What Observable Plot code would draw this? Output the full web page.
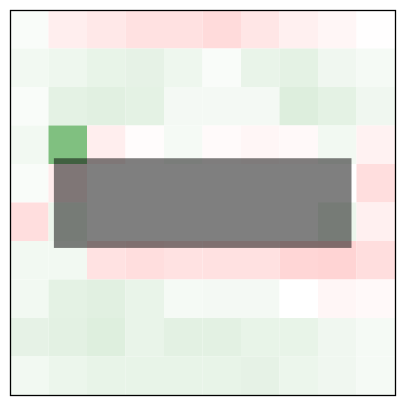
<!DOCTYPE html>
<html>
<head>
<meta charset="utf-8">
<script src="https://cdn.jsdelivr.net/npm/d3@7"></script>
<script src="https://cdn.jsdelivr.net/npm/@observablehq/plot@0.6"></script>
<style>
  html, body { margin: 0; padding: 0; background: #fff; }
  #chart svg { display: block; }
</style>
</head>
<body>
<div id="chart"></div>
<script>
// Heatmap values (rows top to bottom, columns left to right); negative = red, positive = green
const row0 = [0.05, -0.13, -0.18, -0.24, -0.24, -0.28, -0.20, -0.12, -0.07, -0.01];
const row1 = [0.10, 0.13, 0.18, 0.20, 0.13, 0.05, 0.17, 0.21, 0.12, 0.08];
const row2 = [0.05, 0.21, 0.24, 0.21, 0.09, 0.09, 0.09, 0.27, 0.21, 0.12];
const row3 = [0.10, 1.00, -0.13, -0.02, 0.08, -0.04, -0.07, -0.05, 0.10, -0.10];
const row4 = [0.05, -0.15, 0.00, 0.00, 0.00, 0.00, 0.00, 0.00, 0.00, -0.26];
const row5 = [-0.26, 0.15, 0.00, 0.00, 0.00, 0.00, 0.00, 0.00, 0.15, -0.12];
const row6 = [0.10, 0.10, -0.23, -0.26, -0.23, -0.24, -0.24, -0.32, -0.34, -0.26];
const row7 = [0.10, 0.21, 0.24, 0.17, 0.08, 0.09, 0.09, 0.00, -0.07, -0.05];
const row8 = [0.20, 0.22, 0.26, 0.17, 0.22, 0.22, 0.18, 0.18, 0.12, 0.08];
const row9 = [0.10, 0.15, 0.18, 0.18, 0.18, 0.18, 0.20, 0.15, 0.12, 0.08];
const rows = [row0, row1, row2, row3, row4, row5, row6, row7, row8, row9];

// Masked region overlay box (in grid units)
const boxX = [1.14, 8.87];
const boxY = [3.85, 6.18];

const cells = [];
rows.forEach((r, i) => r.forEach((v, j) => cells.push({col: j, row: i, value: v})));
const box = [{x1: boxX[0], x2: boxX[1], y1: boxY[0], y2: boxY[1]}];

const chart = Plot.plot({
  width: 404,
  height: 405,
  marginLeft: 10,
  marginRight: 9,
  marginTop: 10,
  marginBottom: 10,
  x: {domain: [0, 10], axis: null},
  y: {domain: [0, 10], reverse: true, axis: null},
  color: {type: "linear", domain: [-1, 0, 1], range: ["#ff8080", "#ffffff", "#80c080"]},
  marks: [
    Plot.rect(cells, {
      x1: "col", x2: d => d.col + 1,
      y1: "row", y2: d => d.row + 1,
      fill: "value"
    }),
    Plot.rect(box, {x1: "x1", x2: "x2", y1: "y1", y2: "y2", fill: "black", fillOpacity: 0.5}),
    Plot.frame({stroke: "black", strokeWidth: 1.3})
  ]
});
document.getElementById("chart").append(chart);
</script>
</body>
</html>
